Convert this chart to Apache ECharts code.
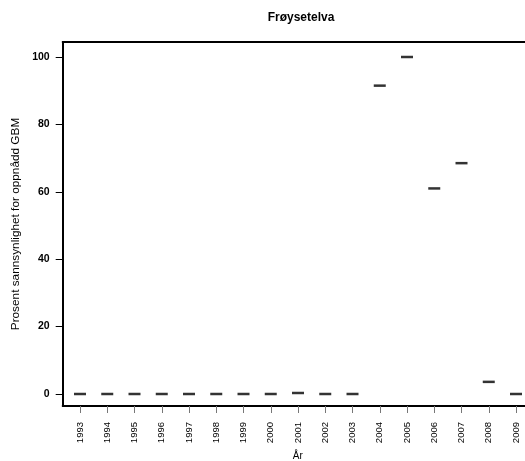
<!DOCTYPE html>
<html>
<head>
<meta charset="utf-8">
<script src="https://cdn.jsdelivr.net/npm/echarts@6/dist/echarts.min.js"></script>
<style>html,body{margin:0;padding:0;background:#fff}#c{width:525px;height:461px}</style>
</head>
<body>
<div id="c"></div>
<script>
const years = [1993,1994,1995,1996,1997,1998,1999,2000,2001,2002,2003,2004,2005,2006,2007,2008,2009];
const values = [0,0,0,0,0,0,0,0,0.3,0,0,91.5,100,61,68.5,3.6,0];
const yTicks = [0,20,40,60,80,100];
const titleText = 'Frøysetelva';
const yName = 'Prosent sannsynlighet for oppnådd GBM';
const xName = 'År';

const chart = echarts.init(document.getElementById('c'), null, {renderer:'canvas'});
const font = 'Liberation Sans, Arial, sans-serif';
chart.setOption({
  animation: false,
  title: {
    text: titleText, left: 296, top: 7, textAlign: 'center',
    textStyle: {fontFamily: font, fontSize: 12, fontWeight: 'bold', color: '#000'}
  },
  grid: {left: 62.7, right: 0, top: 42, bottom: 55, containLabel: false, outerBoundsMode: 'none'},
  xAxis: [{
    type: 'value', min: 1992.365, max: 2009.33,
    name: xName, nameLocation: 'middle', nameGap: 43,
    nameTextStyle: {fontFamily: font, fontSize: 10, color: '#000', padding: [0,0,0,8]},
    axisLine: {show: true, onZero: false, lineStyle: {color: '#000', width: 2}},
    axisTick: {show: true, customValues: years, length: 7, lineStyle: {color: '#777', width: 1}},
    axisLabel: {customValues: years, rotate: 90, margin: 16, fontFamily: font, fontSize: 9.5, color: '#000',
      formatter: v => String(v)},
    splitLine: {show: false}
  }, {
    type: 'value', position: 'top', min: 1992.365, max: 2009.33,
    axisLine: {show: true, onZero: false, lineStyle: {color: '#000', width: 2}},
    axisTick: {show: false}, axisLabel: {show: false}, splitLine: {show: false}
  }],
  yAxis: {
    type: 'value', min: -3.56, max: 104.45,
    name: yName, nameLocation: 'middle', nameGap: 36,
    nameTextStyle: {fontFamily: font, fontSize: 11.8, color: '#000'},
    axisLine: {show: true, onZero: false, lineStyle: {color: '#000', width: 2}},
    axisTick: {show: true, customValues: yTicks, length: 7, lineStyle: {color: '#000', width: 1}},
    axisLabel: {customValues: yTicks, margin: 13, fontFamily: font, fontSize: 10.5, fontWeight: 'bold', color: '#000'},
    splitLine: {show: false}
  },
  series: [{
    type: 'scatter',
    data: years.map((y, i) => [y, values[i]]),
    symbol: 'rect', symbolSize: [12, 2.5],
    itemStyle: {color: '#000'}
  }]
});
</script>
</body>
</html>
